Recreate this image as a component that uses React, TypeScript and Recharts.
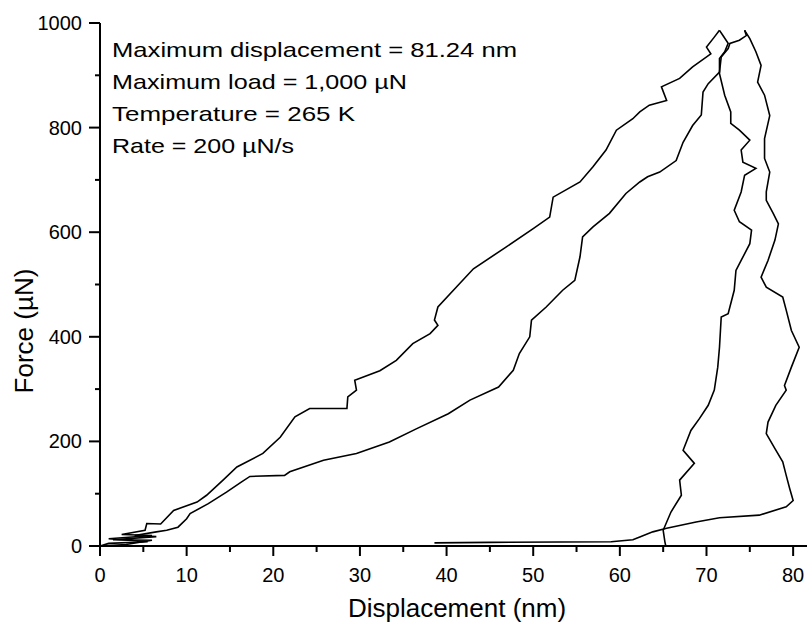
import { LineChart, Line, XAxis, YAxis, Customized } from 'recharts'

const FONT = '"Liberation Sans", Arial, Helvetica, sans-serif'

// tick values
const xTicks = [0, 5, 10, 15, 20, 25, 30, 35, 40, 45, 50, 55, 60, 65, 70, 75, 80]
const yTicks = [0, 100, 200, 300, 400, 500, 600, 700, 800, 900, 1000]

// [displacement nm, force uN]
const loading1 = [
  [0, 0], [1, 5], [5.5, 8], [1, 14], [6, 20], [2.5, 22], [5.2, 30], [5.4, 43], [7, 42],
  [8.5, 68], [11.2, 84], [12.3, 97], [14.2, 126], [15.8, 151], [18.8, 177], [20.8, 208],
  [22.5, 247], [24.2, 263], [28.5, 263], [28.6, 285], [29.6, 298], [29.4, 317], [32.3, 335],
  [34.2, 355], [36.1, 387], [38.1, 406], [39, 422], [38.6, 432], [39, 457], [41.3, 498],
  [43.1, 530], [46.9, 572], [50, 607], [51.9, 629], [52.3, 667], [55.4, 696], [56.9, 725],
  [58.4, 757], [59.6, 795], [61.5, 817], [62.3, 830], [63.4, 843], [65.4, 852], [64.8, 878],
  [66.9, 894], [68.4, 916], [70.5, 941], [70, 954], [70.9, 973], [71.5, 986],
]

const unloading1 = [
  [71.5, 986], [71.9, 976], [72.5, 961], [72.1, 945], [71.5, 932], [71.5, 903], [72.1, 862],
  [72.8, 830], [72.8, 808], [73.8, 795], [75, 776], [74, 757], [74.2, 734], [75.7, 722],
  [74.4, 709], [74, 677], [73.2, 642], [73.8, 620], [75.2, 604], [75, 578], [74, 546],
  [73.4, 527], [73.2, 489], [72.5, 444], [71.7, 438], [71.5, 380], [71.3, 342], [70.9, 298],
  [70.2, 269], [69.2, 244], [68.2, 221], [67.3, 183], [68.6, 158], [66.9, 126], [67.1, 97],
  [65.9, 65], [65, 30], [65.2, 8], [65.3, 0],
]

const loading2 = [
  [0, 0], [3, 3], [6, 11], [1.5, 12], [6.5, 18], [4, 20], [6.5, 27], [7.7, 30], [9, 36],
  [10, 52], [10.4, 62], [12.5, 81], [14.6, 103], [16.3, 122], [17.3, 133], [21.3, 135],
  [21.9, 142], [25.8, 164], [29.6, 177], [33.4, 199], [36.5, 224], [40.2, 253], [42.7, 279],
  [46, 304], [47.7, 336], [48.4, 368], [49.6, 400], [49.8, 432], [51.5, 457], [53.4, 489],
  [54.8, 508], [55.4, 553], [55.7, 591], [56.9, 610], [58.8, 636], [60.7, 674], [62.3, 696],
  [63.2, 706], [64.6, 715], [66.5, 737], [67.3, 772], [68.4, 804], [69.4, 824], [69.6, 868],
  [70.2, 884], [71.5, 906], [71.7, 935], [72.5, 951], [72.7, 961], [73.8, 967], [74.6, 976],
  [74.4, 986],
]

const unloading2 = [
  [74.4, 986], [75, 970], [75.7, 945], [76.3, 919], [75.9, 887], [76.7, 862], [77.3, 823],
  [76.7, 779], [76.7, 741], [77.3, 715], [76.9, 677], [76.9, 661], [77.7, 636], [78.3, 616],
  [77.9, 585], [77.1, 546], [76.3, 514], [76.9, 495], [78.8, 476], [79.2, 451], [79.8, 412],
  [80.7, 380], [79.8, 342], [79, 307], [79.2, 298], [78, 269], [77.1, 237], [76.9, 215],
  [77.9, 186], [78.8, 161], [79.2, 135], [79.6, 110], [80, 87], [79.2, 75], [76.1, 59],
  [71.5, 54], [68.8, 46], [65.4, 34], [63.8, 27], [62.3, 17], [61.5, 12], [59, 8], [45, 7],
  [38.6, 6],
]

const notes = [
  'Maximum displacement = 81.24 nm',
  'Maximum load = 1,000 \u00b5N',
  'Temperature = 265 K',
  'Rate = 200 \u00b5N/s',
]
const xTitle = 'Displacement (nm)'
const yTitle = 'Force (\u00b5N)'

const toPoints = (arr: number[][]) => arr.map(([x, y]) => ({ x, y }))
const series = [loading1, unloading1, loading2, unloading2].map(toPoints)

function BottomTick(props: any) {
  const { x, y, payload } = props
  const major = payload.value % 10 === 0
  return (
    <g>
      <line x1={x} x2={x} y1={y} y2={y + (major ? 10 : 6)} stroke="#000" strokeWidth={2} />
      {major && (
        <text x={x} y={y + 36} textAnchor="middle" fontSize={20} fontFamily={FONT} fill="#000">
          {payload.value}
        </text>
      )}
    </g>
  )
}

function TopTick(props: any) {
  const { x, y, payload } = props
  const major = payload.value % 10 === 0
  return <line x1={x} x2={x} y1={y} y2={y - (major ? 10 : 5)} stroke="#000" strokeWidth={2} />
}

function LeftTick(props: any) {
  const { x, y, payload } = props
  const major = payload.value % 200 === 0
  return (
    <g>
      <line x1={x - (major ? 11 : 5)} x2={x} y1={y} y2={y} stroke="#000" strokeWidth={2} />
      {major && (
        <text x={x - 18} y={y + 7} textAnchor="end" fontSize={20} fontFamily={FONT} fill="#000">
          {payload.value}
        </text>
      )}
    </g>
  )
}

const noteWidths = [405, 295, 243, 182]

function Annotations() {
  return (
    <g fontFamily={FONT} fontSize={21} fill="#000">
      {notes.map((t, i) => (
        <text key={i} x={112} y={57 + i * 32} textLength={noteWidths[i]} lengthAdjust="spacingAndGlyphs">
          {t}
        </text>
      ))}
      <text x={457} y={617} textAnchor="middle" fontSize={26}>{xTitle}</text>
      <text x={33} y={331} textAnchor="middle" fontSize={26} transform="rotate(-90 33 331)">
        {yTitle}
      </text>
    </g>
  )
}

export default function App() {
  return (
    <div style={{ position: 'absolute', left: 0, top: 0, width: 809, height: 623, background: '#fff' }}>
      <LineChart width={809} height={623} margin={{ top: 23, right: 2, left: 0, bottom: 0 }}>
        <XAxis
          dataKey="x"
          type="number"
          domain={[0, 81.6]}
          ticks={xTicks}
          interval={0}
          allowDataOverflow
          height={77}
          tickSize={0}
          tickMargin={0}
          tickLine={false}
          tick={<BottomTick />}
          axisLine={{ stroke: '#000', strokeWidth: 2 }}
        />
        <XAxis
          xAxisId="top"
          orientation="top"
          dataKey="x"
          type="number"
          domain={[0, 81.6]}
          ticks={xTicks}
          interval={0}
          height={0}
          tickSize={0}
          tickMargin={0}
          tickLine={false}
          tick={<TopTick />}
          axisLine={{ stroke: '#000', strokeWidth: 2 }}
        />
        <YAxis
          type="number"
          domain={[0, 1000]}
          ticks={yTicks}
          interval={0}
          allowDataOverflow
          width={100}
          tickSize={0}
          tickMargin={0}
          tickLine={false}
          tick={<LeftTick />}
          axisLine={{ stroke: '#000', strokeWidth: 2 }}
        />
        <YAxis
          yAxisId="right"
          orientation="right"
          type="number"
          domain={[0, 1000]}
          width={0}
          tick={false}
          tickLine={false}
          axisLine={{ stroke: '#000', strokeWidth: 2 }}
        />
        {series.map((d, i) => (
          <Line
            key={i}
            data={d}
            dataKey="y"
            type="linear"
            stroke="#000"
            strokeWidth={1.6}
            dot={false}
            activeDot={false}
            isAnimationActive={false}
          />
        ))}
        <Customized component={Annotations} />
      </LineChart>
    </div>
  )
}
